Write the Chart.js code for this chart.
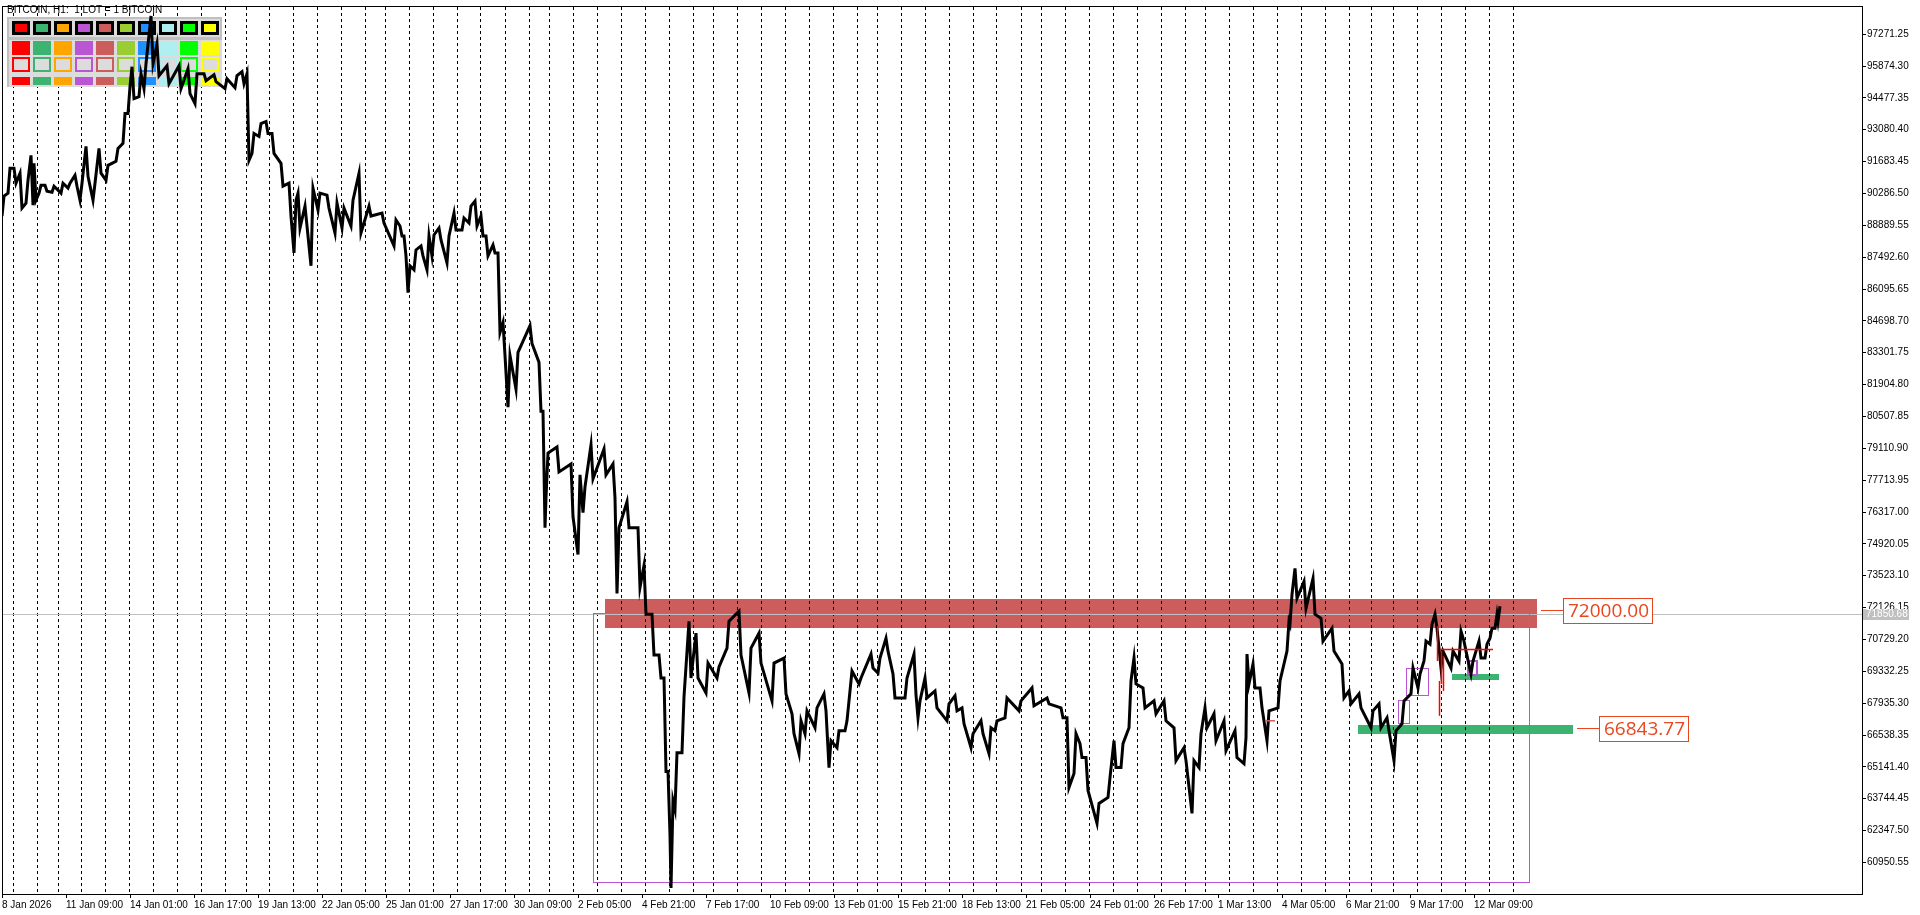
<!DOCTYPE html>
<html>
<head>
<meta charset="utf-8">
<script src="https://cdn.jsdelivr.net/npm/chart.js@4.4.1/dist/chart.umd.min.js"></script>
<style>
html,body{margin:0;padding:0;background:#fff;overflow:hidden}
canvas{display:block}
</style>
</head>
<body>
<canvas id="c" width="1920" height="915"></canvas>
<script>
// ---- DATA (bar index = hours since first bar) ----
const barIdx = [1,7,13,19,25,30,33,38,44,51,60,67,74,79,85,92,98,105,115,122,127,131,138,143,150,156,166,178,187,194,203,213,224,234,241,246,251,258,265,271,280,288,293,297,304,310,317,326,334,341,350,358,368,381,393,399,403,407,413,420,426,431,438,446,453,461,468,474,480,485,492,497,502,507,515,529,538,542,545,556,570,577,582,590,603,612,616,626,637,643,651,658,663,667,670,674,681,688,695,705,716,726,738,748,758,771,783,791,798,804,814,823,828,836,844,849,858,870,877,885,892,904,913,917,924,934,946,954,961,970,980,988,994,1004,1018,1031,1046,1060,1066,1073,1079,1085,1096,1107,1113,1120,1128,1133,1142,1153,1163,1173,1183,1191,1198,1204,1213,1223,1234,1243,1246,1252,1259,1266,1277,1286,1289,1294,1303,1312,1320,1331,1341,1348,1358,1370,1378,1386,1393,1401,1410,1417,1423,1429,1434,1440,1450,1458,1463,1470,1478,1484,1489,1494,1497];
const highs = [90169,91391,91391,91173,90867,91958,91609,90649,90649,90605,90736,90736,91085,90736,92351,90736,92264,91522,92264,93792,94971,95844,95538,95975,98070,96848,95887,95887,95756,95538,95538,95494,95320,95451,95625,95538,92919,93355,93443,92919,91609,90736,89994,90300,89732,90518,90300,90212,89863,89645,89994,91173,89732,89426,89121,88859,88422,87113,87811,87986,88422,88466,88772,88422,89426,89208,89732,89950,89296,88422,88029,87680,84624,83184,83315,84493,82878,80739,78906,79168,78425,77945,77421,79255,79080,78425,75631,76767,75631,73973,71833,70044,69040,64936,63670,65765,68210,71528,71004,69694,69520,71528,71964,70349,71004,69694,69913,67468,67162,67599,67730,68341,66289,66726,67162,69345,69040,70087,69913,70786,69214,69040,70087,68036,69040,68472,67905,68254,67730,66595,67162,66857,67162,68166,68036,68603,68166,67730,67293,66595,66158,65547,63539,64674,66289,66158,68909,69913,68603,68036,68036,66857,65984,65416,66595,67730,67468,67162,66726,66420,70087,69651,68603,67599,68909,71528,72707,73842,73274,73405,71659,71222,69651,68472,68341,67599,67905,67293,66726,68036,69476,69214,70655,71397,71833,70218,70218,71091,70655,69782,70655,70524,71222,71833,72183];
const lows = [89296,90300,90736,89645,89863,89776,89994,90300,90387,90343,90300,90518,90605,89994,91042,89994,91173,90867,91696,92482,93792,94447,94534,94883,95975,95451,95102,94883,94665,94228,95233,95189,94883,94927,95102,91740,92046,92788,92919,92046,90605,89296,87680,88772,88859,87113,89557,89645,88553,88772,88859,88553,89296,88990,87986,88422,87549,85934,86938,87549,86938,87549,88248,87244,88684,88684,88990,88859,88422,87549,87680,84188,83184,80914,81700,83708,80739,75631,76941,78076,76111,74453,76286,77771,77945,76941,72750,75631,73012,71833,70044,69040,64936,62142,59829,63277,65765,69040,69040,68385,69040,70349,70044,68385,69694,68035,68341,66595,65722,66595,66857,67599,65111,65984,66726,68472,68778,69476,69258,70218,68166,68166,68300,67293,68166,67730,67162,67599,67031,65984,66595,65722,66726,67293,67599,67817,67905,67293,64237,64849,65547,64107,62666,63801,65111,65111,66857,68778,67730,67468,67162,65416,65416,63102,65111,66857,66289,65853,65547,65285,68778,68603,67730,66289,67730,70218,71397,72532,72095,71833,70655,70218,68166,67905,67730,66857,66857,66726,65416,67031,68341,68603,69782,70524,71222,69476,69476,69782,70218,69214,69913,69913,70786,71222,71528];

const xLabels = ["8 Jan 2026","11 Jan 09:00","14 Jan 01:00","16 Jan 17:00","19 Jan 13:00","22 Jan 05:00","25 Jan 01:00","27 Jan 17:00","30 Jan 09:00","2 Feb 05:00","4 Feb 21:00","7 Feb 17:00","10 Feb 09:00","13 Feb 01:00","15 Feb 21:00","18 Feb 13:00","21 Feb 05:00","24 Feb 01:00","26 Feb 17:00","1 Mar 13:00","4 Mar 05:00","6 Mar 21:00","9 Mar 17:00","12 Mar 09:00"];
const xLabelIdx = [0,64,128,192,256,320,384,448,512,576,640,704,768,832,896,960,1024,1088,1152,1216,1280,1344,1408,1472];
const daySeps = [11,35,56,79,103,127,151,175,199,223,244,267,291,315,339,363,383,407,431,455,479,503,527,547,571,595,619,643,667,691,711,735,759,783,807,831,855,875,899,923,947,971,995,1019,1039,1063,1087,1111,1135,1159,1183,1203,1227,1251,1275,1299,1323,1347,1369,1391,1415,1439,1463,1487,1511];
const yTicks = [60950.55,62347.50,63744.45,65141.40,66538.35,67935.30,69332.25,70729.20,72126.15,73523.10,74920.05,76317.00,77713.95,79110.90,80507.85,81904.80,83301.75,84698.70,86095.65,87492.60,88889.55,90286.50,91683.45,93080.40,94477.35,95874.30,97271.25];

// zones (filled rectangles)
const zoneStart = [603, 1356, 1450];
const zoneEnd   = [1535, 1571, 1497];
const zoneHigh  = [72518, 66988, 69214];
const zoneLow   = [71235, 66564, 68966];
// outline boxes
const boxStart = [591, 1396, 1404, 1466];
const boxEnd   = [1527, 1407, 1426, 1475];
const boxHigh  = [71873, 68079, 69476, 69782];
const boxLow   = [60073, 67074, 68297, 69170];
// red bars / red level
const redBarIdx  = [1435, 1437, 1439, 1441];
const redBarHigh = [71309, 68909, 70218, 70000];
const redBarLow  = [69782, 67381, 68778, 68472];
const redLine = [1438, 1491, 70292];      // start, end, price
const smallDash = [1263, 1273, 67162];    // start, end, price
// price labels
const levelPrice = [72000.00, 66843.77];
const levelIdx   = [1539, 1575];
const bidPrice = 71850.68;
const titleText = "BITCOIN, H1:  1 LOT = 1 BITCOIN";
const panelColors = ['#FF0000','#3CB371','#FFA500','#BA55D3','#CD5C5C','#9ACD32','#1E90FF','#AFEEEE','#00FF00','#FFFF00'];

// ---- STYLES ----
const zoneColors = ['#CD5C5C','#3CB371','#3CB371'];
const boxWidths = [1,1,1,2];
const BOX_COLOR = '#BA55D3';
const LBL = '#E8461E';
const FONT = '"Liberation Sans", Arial, sans-serif';

function px(v){return Math.round(v)+0.5;}

// price path: each sample drawn as a vertical high-low stroke, ordered to follow the trend
const pricePath = [];
barIdx.forEach((v,i)=>{
  const mid = (highs[i]+lows[i])/2;
  const nxt = i+1<barIdx.length ? (highs[i+1]+lows[i+1])/2 : mid;
  if (nxt < mid) { pricePath.push({x:v-1,y:highs[i]},{x:v+1,y:lows[i]}); }
  else { pricePath.push({x:v-1,y:lows[i]},{x:v+1,y:highs[i]}); }
});

function drawPanel(ctx){
  const x0=7, y0=17, w=215, h=70;
  ctx.fillStyle='#DCDCDC'; ctx.fillRect(x0,y0,w,h);
  ctx.fillStyle='#C0C0C0';
  ctx.fillRect(x0,y0,w,2);
  ctx.fillRect(x0,y0,2,h);
  ctx.fillRect(x0+w-2,y0,2,21);
  ctx.fillRect(x0,37,w,3);
  for(let i=0;i<panelColors.length;i++){
    const tx=12+i*21;
    ctx.fillStyle='#000'; ctx.fillRect(tx,21,18,14);
    ctx.fillStyle=panelColors[i]; ctx.fillRect(tx+3,24,12,8);
    ctx.fillRect(tx,41,18,14);
    ctx.fillStyle='#DCDCDC'; ctx.fillRect(tx,57,18,15);
    ctx.strokeStyle=panelColors[i]; ctx.lineWidth=2; ctx.strokeRect(tx+1,58,16,13);
    ctx.fillStyle=panelColors[i]; ctx.fillRect(tx,77,18,8);
  }
}

const overlay = {
  id:'overlay',
  beforeDraw(chart){
    const {ctx, scales:{x,y}} = chart;
    ctx.save();
    ctx.fillStyle='#fff'; ctx.fillRect(0,0,chart.width,chart.height);
    for(let i=0;i<zoneStart.length;i++){
      const x1=Math.round(x.getPixelForValue(zoneStart[i])), x2=Math.round(x.getPixelForValue(zoneEnd[i]));
      const y1=Math.round(y.getPixelForValue(zoneHigh[i])), y2=Math.round(y.getPixelForValue(zoneLow[i]));
      ctx.fillStyle=zoneColors[i];
      ctx.fillRect(x1,y1,x2-x1,y2-y1);
    }
    ctx.restore();
  },
  beforeDatasetsDraw(chart){
    const {ctx, chartArea:a, scales:{x,y}} = chart;
    ctx.save();
    const by = px(y.getPixelForValue(bidPrice));
    ctx.strokeStyle='#C0C0C0'; ctx.lineWidth=1;
    ctx.beginPath(); ctx.moveTo(a.left,by); ctx.lineTo(a.right,by); ctx.stroke();
    ctx.strokeStyle=BOX_COLOR;
    for(let i=0;i<boxStart.length;i++){
      ctx.lineWidth=boxWidths[i];
      const x1=x.getPixelForValue(boxStart[i]), x2=x.getPixelForValue(boxEnd[i]);
      const y1=y.getPixelForValue(boxHigh[i]), y2=y.getPixelForValue(boxLow[i]);
      if(boxWidths[i]===1) ctx.strokeRect(px(x1),px(y1),Math.round(x2-x1),Math.round(y2-y1));
      else ctx.strokeRect(Math.round(x1),Math.round(y1),Math.round(x2-x1),Math.round(y2-y1));
    }
    drawPanel(ctx);
    ctx.fillStyle='#000'; ctx.font='10px '+FONT; ctx.textBaseline='alphabetic'; ctx.textAlign='left';
    ctx.fillText(titleText,7,13);
    ctx.restore();
  },
  afterDatasetsDraw(chart){
    const {ctx, scales:{x,y}} = chart;
    ctx.save();
    ctx.strokeStyle='#FF0000'; ctx.lineWidth=1.5;
    for(let i=0;i<redBarIdx.length;i++){
      const bx=px(x.getPixelForValue(redBarIdx[i]));
      ctx.beginPath(); ctx.moveTo(bx,y.getPixelForValue(redBarHigh[i])); ctx.lineTo(bx,y.getPixelForValue(redBarLow[i])); ctx.stroke();
    }
    let ly=y.getPixelForValue(redLine[2]);
    ctx.beginPath(); ctx.moveTo(x.getPixelForValue(redLine[0]),ly); ctx.lineTo(x.getPixelForValue(redLine[1]),ly); ctx.stroke();
    ctx.strokeStyle='#CD5C5C';
    ly=y.getPixelForValue(smallDash[2]);
    ctx.beginPath(); ctx.moveTo(x.getPixelForValue(smallDash[0]),ly); ctx.lineTo(x.getPixelForValue(smallDash[1]),ly); ctx.stroke();
    ctx.font='19px "Open Sans", sans-serif';
    ctx.textBaseline='middle'; ctx.textAlign='left';
    for(let i=0;i<levelPrice.length;i++){
      const yy=px(y.getPixelForValue(levelPrice[i]));
      const x0=Math.round(x.getPixelForValue(levelIdx[i]));
      const txt=levelPrice[i].toFixed(2);
      const tw=ctx.measureText(txt).width;
      const bx=x0+22, bw=Math.round(tw+8), bh=25;
      ctx.strokeStyle=LBL; ctx.lineWidth=1;
      ctx.beginPath(); ctx.moveTo(x0,yy); ctx.lineTo(bx,yy); ctx.stroke();
      ctx.fillStyle='#fff'; ctx.fillRect(bx,yy-12.5,bw,bh);
      ctx.strokeRect(bx+0.5,yy-12,bw,bh);
      ctx.fillStyle=LBL; ctx.fillText(txt,bx+5,yy+1);
    }
    ctx.restore();
  },
  afterDraw(chart){
    const {ctx, chartArea:a, scales:{y}} = chart;
    ctx.save();
    ctx.strokeStyle='#000'; ctx.lineWidth=1;
    ctx.strokeRect(a.left+0.5,a.top-0.5,a.right-a.left,a.bottom-a.top+1);
    const by=Math.round(y.getPixelForValue(bidPrice));
    ctx.fillStyle='#C0C0C0'; ctx.fillRect(a.right+1,by-5,46,11);
    ctx.fillStyle='#fff'; ctx.font='10px '+FONT; ctx.textBaseline='middle'; ctx.textAlign='left';
    ctx.fillText(bidPrice.toFixed(2),a.right+4,by+0.5);
    ctx.restore();
  }
};

new Chart(document.getElementById('c').getContext('2d'), {
  type:'line',
  data:{datasets:[
    {data:pricePath, borderColor:'#000', borderWidth:3, pointRadius:0, fill:false, tension:0, borderJoinStyle:'miter', borderCapStyle:'butt'}
  ]},
  options:{
    responsive:false, animation:false, devicePixelRatio:1, events:[],
    layout:{padding:{top:3,left:2,right:0,bottom:0}},
    plugins:{legend:{display:false}, tooltip:{enabled:false}},
    scales:{
      x:{type:'linear', position:'bottom', min:0, max:1860,
        afterBuildTicks(s){s.ticks=xLabelIdx.map(v=>({value:v}));},
        afterFit(s){s.height=21;},
        grid:{drawOnChartArea:false, drawTicks:true, tickLength:4, color:'#000', lineWidth:1},
        border:{display:true, color:'#000', width:1},
        ticks:{autoSkip:false, maxRotation:0, minRotation:0, align:'start', padding:1, color:'#000',
          font:{family:FONT, size:10}, callback:(v,i)=>xLabels[i]}
      },
      sep:{type:'linear', position:'bottom', min:0, max:1860,
        afterBuildTicks(s){s.ticks=daySeps.map(v=>({value:v}));},
        afterFit(s){s.height=0;},
        grid:{drawOnChartArea:true, drawTicks:false, color:'#000', lineWidth:1},
        border:{display:false, dash:[3,3]},
        ticks:{display:false}
      },
      y:{type:'linear', position:'right', min:59566.7, max:98463,
        afterBuildTicks(s){s.ticks=yTicks.map(v=>({value:v}));},
        afterFit(s){s.width=58;},
        grid:{drawOnChartArea:false, tickLength:4, color:'#000'},
        border:{display:true, color:'#000'},
        ticks:{autoSkip:false, padding:1, color:'#000', font:{family:FONT, size:10}, callback:v=>v.toFixed(2)}
      }
    }
  },
  plugins:[overlay]
});
</script>
</body>
</html>
